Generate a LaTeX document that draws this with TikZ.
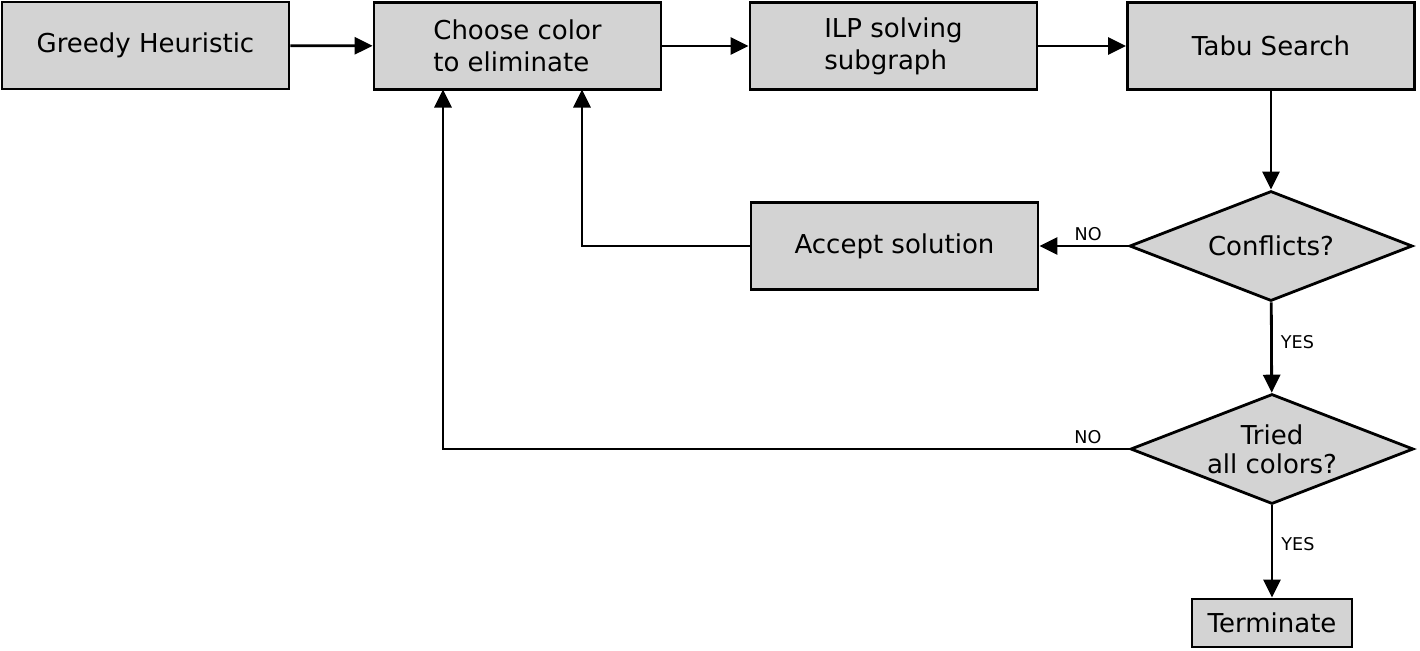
\documentclass[tikz,border=0pt]{standalone}
\usepackage{fontspec}
\setmainfont{DejaVu Sans}
\usetikzlibrary{arrows.meta,shapes.geometric,positioning}
\definecolor{boxgray}{RGB}{211,211,211}

\begin{document}
\begin{tikzpicture}[x=0.5pt, y=-0.5pt, line width=1.4pt,
    >={Triangle[length=9pt,width=8.5pt]},
    block/.style={draw, fill=boxgray, minimum width=143.5pt, minimum height=43.5pt,
      inner sep=0pt, align=left, font=\fontsize{13}{16}\selectfont},
    decision/.style={draw, diamond, fill=boxgray, aspect=2.6, minimum width=141.5pt,
      minimum height=55pt, inner sep=0pt, align=center, font=\fontsize{13}{14.5}\selectfont},
    lbl/.style={font=\fontsize{8.8}{10}\selectfont, inner sep=2pt}]
   \useasboundingbox (0,0) rectangle (1420,650);
   \node[block] (greedy) at (145.5,45.5) {Greedy Heuristic};
   \node[block] (choose) at (517.5,46) {Choose color\\to eliminate};
   \node[block] (ilp) at (893.5,46) {ILP solving\\subgraph};
   \node[block] (tabu) at (1271,46) {Tabu Search};
   \node[decision] (conf) at (1271,246) {Conflicts?};
   \node[block] (accept) at (894.5,246) {Accept solution};
   \node[decision] (tried) at (1272,449) {Tried\\all colors?};
   \node[block, minimum width=80pt, minimum height=24pt, align=center] (term) at (1272,623) {Terminate};
   \coordinate (in1) at (582,89.5);
   \coordinate (in2) at (443,89.5);

  \path[->]
    (greedy) edge (choose)
    (choose) edge (ilp)
    (ilp) edge (tabu)
    (tabu) edge (conf)
    (conf) edge node[lbl, above, pos=0.45] {NO} (accept)
           edge node[lbl, right=2pt, pos=0.44] {YES} (tried)
    (tried) edge node[lbl, right=2pt, pos=0.42] {YES} (term);
  \draw[->] (accept.west) -| (in1);
  \draw[->] (tried.west) -| node[lbl, above, pos=0.03] {NO} (in2);
\end{tikzpicture}
\end{document}
